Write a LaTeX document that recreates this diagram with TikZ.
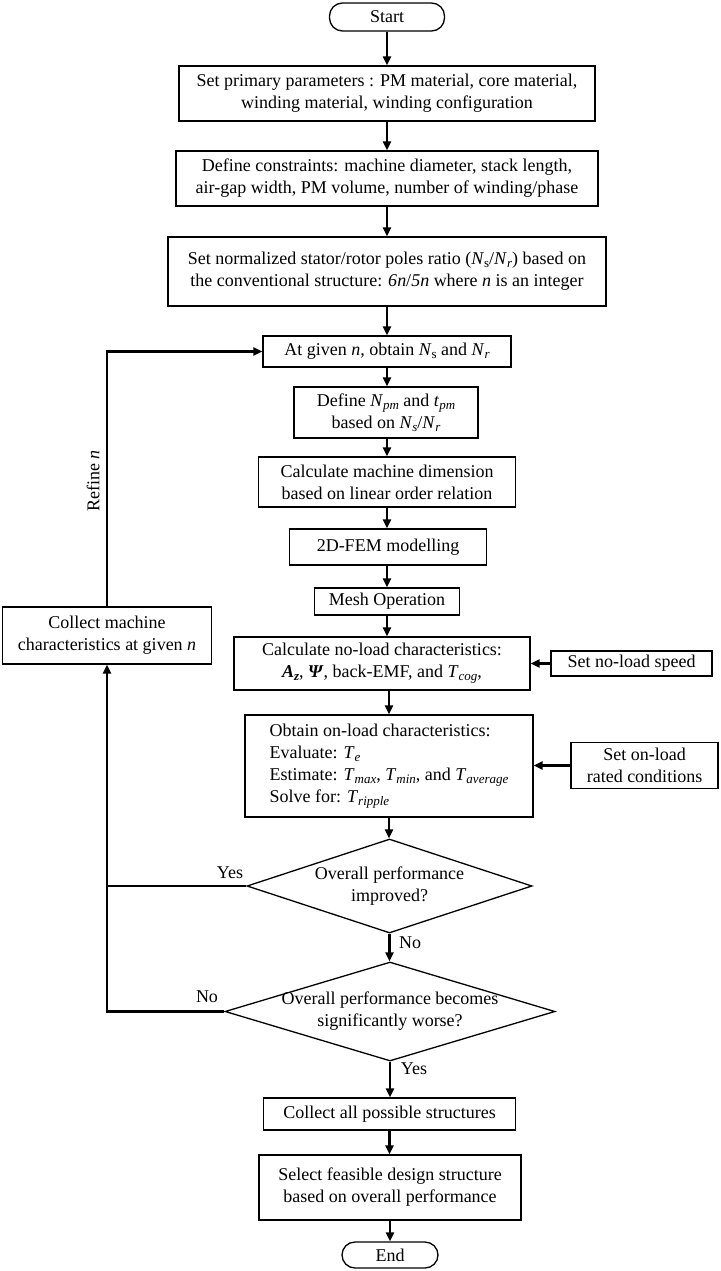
\documentclass[tikz,border=0pt]{standalone}
\usepackage{fontspec}
\setmainfont{Liberation Serif}
\usetikzlibrary{shapes.geometric,arrows.meta}
\newcommand{\vsub}[2]{\textit{#1}\raisebox{-0.35ex}{\fontsize{13}{13}\selectfont\textit{#2}}}
\newcommand{\vsubr}[2]{\textit{#1}\raisebox{-0.35ex}{\fontsize{13}{13}\selectfont #2}}
\begin{document}
\begin{tikzpicture}[x=1pt,y=-1pt,
  every node/.style={font=\fontsize{18}{22}\selectfont},
  box/.style={draw, line width=1.3pt, align=center, inner sep=0pt},
  term/.style={draw, line width=1.3pt, rounded corners=13pt, inner sep=0pt},
  dia/.style={draw, diamond, line width=1.3pt, inner sep=0pt},
  conn/.style={line width=2.2pt, -{Triangle[length=9pt,width=8pt]}},
  plain/.style={line width=2.2pt},
  lbl/.style={inner sep=0pt}]
\useasboundingbox (0,0) rectangle (720,1271);

% main column
\node[term, minimum width=115pt, minimum height=28pt] (start) at (387,17) {Start};
\node[box, minimum width=416pt, minimum height=55pt] (b1) at (387,93.5)
  {Set primary parameters : PM material, core material,\\winding material, winding configuration};
\node[box, minimum width=422pt, minimum height=55pt] (b2) at (387,178.5)
  {Define constraints: machine diameter, stack length,\\air-gap width, PM volume, number of winding/phase};
\node[box, minimum width=438pt, minimum height=69pt] (b3) at (387,271.5)
  {Set normalized stator/rotor poles ratio (\vsubr{N}{s}/\vsub{N}{r}) based on\\the conventional structure: \textit{6n}/\textit{5n} where \textit{n} is an integer};
\node[box, minimum width=248pt, minimum height=31pt] (b4) at (387,351.5)
  {At given \textit{n}, obtain \vsubr{N}{s} and \vsub{N}{r}};
\node[box, minimum width=184pt, minimum height=51pt] (b5) at (386,412.5)
  {Define \vsub{N}{pm} and \vsub{t}{pm}\\based on \vsub{N}{s}/\vsub{N}{r}};
\node[box, minimum width=257pt, minimum height=50pt] (b6) at (387,482)
  {Calculate machine dimension\\based on linear order relation};
\node[box, minimum width=197pt, minimum height=36pt] (b7) at (388,547)
  {2D-FEM modelling};
\node[box, minimum width=145pt, minimum height=27pt] (b8) at (387,601.5)
  {Mesh Operation};
\node[box, minimum width=296pt, minimum height=53pt] (b9) at (382,663.5)
  {Calculate no-load characteristics:\\\textbf{\textit{A}\raisebox{-0.35ex}{\fontsize{13}{13}\selectfont\textit{z}}}, \textbf{\textit{Ψ}}, back-EMF, and \vsub{T}{cog},};
\node[box, align=left, minimum width=288pt, minimum height=102pt] (b10) at (389,766)
  {Obtain on-load characteristics:\\Evaluate: \vsub{T}{e}\\Estimate: \vsub{T}{max}, \vsub{T}{min}, and \vsub{T}{average}\\Solve for: \vsub{T}{ripple}};
\node[dia, minimum width=285pt, minimum height=94pt] (d1) at (389.5,886) {};
\node[align=center] (d1t) at (d1.center) {Overall performance\\improved?};
\node[dia, minimum width=330pt, minimum height=99pt] (d2) at (390,1011.5) {};
\node[align=center] (d2t) at (d2.center) {Overall performance becomes\\significantly worse?};
\node[box, minimum width=252pt, minimum height=32pt] (b11) at (389.5,1114)
  {Collect all possible structures};
\node[box, minimum width=262pt, minimum height=65pt] (b12) at (390,1187.5)
  {Select feasible design structure\\based on overall performance};
\node[term, minimum width=96pt, minimum height=26pt] (end) at (390,1255) {End};

% side boxes
\node[box, minimum width=161pt, minimum height=25pt] (s1) at (631.5,663.5) {Set no-load speed};
\node[box, minimum width=147pt, minimum height=46pt] (s2) at (644.5,765.5) {Set on-load\\rated conditions};
\node[box, minimum width=209pt, minimum height=57pt] (cm) at (107,635.5)
  {Collect machine\\characteristics at given \textit{n}};

% labels
\node[lbl] (ly1) at (230,873) {Yes};
\node[lbl] (ln1) at (410,943) {No};
\node[lbl] (ln2) at (207,997) {No};
\node[lbl] (ly2) at (414,1069) {Yes};
\node[lbl, rotate=90] (refine) at (93,481) {Refine \textit{n}};

% connectors
\draw[conn] (start.south) -- (start.south |- b1.north);
\draw[conn] (b1.south) -- (b1.south |- b2.north);
\draw[conn] (b2.south) -- (b2.south |- b3.north);
\draw[conn] (b3.south) -- (b3.south |- b4.north);
\draw[conn] (b4.south) -- (b4.south |- b5.north);
\draw[conn] (b4.south |- b5.south) -- (b4.south |- b6.north);
\draw[conn] (b6.south) -- (b6.south |- b7.north);
\draw[conn] (b6.south |- b7.south) -- (b6.south |- b8.north);
\draw[conn] (b8.south) -- (b8.south |- b9.north);
\draw[conn] (b10.north |- b9.south) -- (b10.north);
\draw[conn] (b10.south) -- (b10.south |- d1.north);
\draw[conn] (d1.south) -- (d1.south |- d2.north);
\draw[conn] (d2.south) -- (d2.south |- b11.north);
\draw[conn] (b11.south) -- (b11.south |- b12.north);
\draw[conn] (b12.south) -- (b12.south |- end.north);
\draw[conn] (s1.west) -- (s1.west -| b9.east);
\draw[conn] (s2.west) -- (s2.west -| b10.east);
\draw[plain] (d1.west) -- (d1.west -| cm.south);
\draw[conn] (d2.west) -- (d2.west -| cm.south) -- (cm.south);
\draw[conn] (cm.north) |- (b4.west);
\end{tikzpicture}
\end{document}
